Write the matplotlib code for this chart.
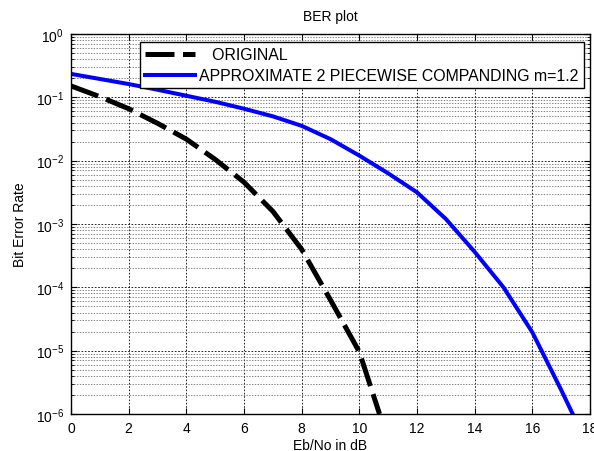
import numpy as np
import matplotlib
matplotlib.use("Agg")
from matplotlib import pyplot as plt
from matplotlib.ticker import LogLocator, FixedLocator, NullFormatter

plt.rcParams["font.family"] = ["Liberation Sans", "DejaVu Sans"]
plt.rcParams["mathtext.fontset"] = "custom"
plt.rcParams["mathtext.rm"] = "Liberation Sans"
plt.rcParams["mathtext.it"] = "Liberation Sans"

# BER curves (Eb/No in dB vs bit error rate)
ebno_orig = [0, 1, 2, 3, 4, 5, 6, 7, 8, 9, 10, 10.7]
ber_orig = [10 ** v for v in [-0.82, -0.99, -1.18, -1.41, -1.66, -1.98,
                              -2.34, -2.80, -3.40, -4.20, -5.02, -6.0]]

ebno_comp = [0, 1, 2, 3, 4, 5, 6, 7, 8, 9, 10, 11, 12, 13, 14, 15, 16, 17, 17.4]
ber_comp = [10 ** v for v in [-0.63, -0.71, -0.79, -0.88, -0.975, -1.07, -1.18,
                              -1.30, -1.45, -1.66, -1.92, -2.20, -2.50, -2.92,
                              -3.44, -4.00, -4.71, -5.62, -6.0]]

xticks = list(range(0, 19, 2))

fig = plt.figure(figsize=(5.94, 4.52), dpi=100)
ax = fig.add_axes([71 / 594, 37 / 452, 519 / 594, 380 / 452])

ax.semilogy(ebno_orig, ber_orig, color="black", lw=3.6,
            linestyle=(0, (5.8, 1.7)), label="   ORIGINAL", solid_capstyle="butt")
ax.semilogy(ebno_comp, ber_comp, color="blue", lw=2.9,
            label="APPROXIMATE 2 PIECEWISE COMPANDING m=1.2")

ax.set_xlim(0, 18)
ax.set_ylim(1e-6, 1)
ax.xaxis.set_major_locator(FixedLocator(xticks))
ax.yaxis.set_major_locator(LogLocator(base=10, numticks=10))
ax.yaxis.set_minor_locator(LogLocator(base=10, subs=np.arange(2, 10), numticks=20))
ax.yaxis.set_minor_formatter(NullFormatter())

ax.grid(True, which="major", axis="both", color="black", lw=0.6, linestyle=(0, (2, 2)))
ax.grid(True, which="minor", axis="y", color="#555555", lw=0.5, linestyle=(0, (2, 2)))

ax.tick_params(which="both", direction="in", top=True, right=True, labelsize=10)
ax.tick_params(which="major", length=4, pad=5)
ax.tick_params(which="minor", length=2)
for s in ax.spines.values():
    s.set_linewidth(1.0)

ax.set_title("BER plot", fontsize=10, pad=10)
ax.set_xlabel("Eb/No in dB", fontsize=10, labelpad=2.5)
ax.set_ylabel("Bit Error Rate", fontsize=10, labelpad=6)

leg = ax.legend(loc="upper right", bbox_to_anchor=(0.988, 0.979), borderaxespad=0,
                fontsize=11.4, fancybox=False, framealpha=1, edgecolor="black",
                handlelength=3.1, handletextpad=0.3, labelspacing=0.39,
                borderpad=0.32)
leg.get_frame().set_linewidth(1.0)

fig.savefig("out.png", dpi=100)
